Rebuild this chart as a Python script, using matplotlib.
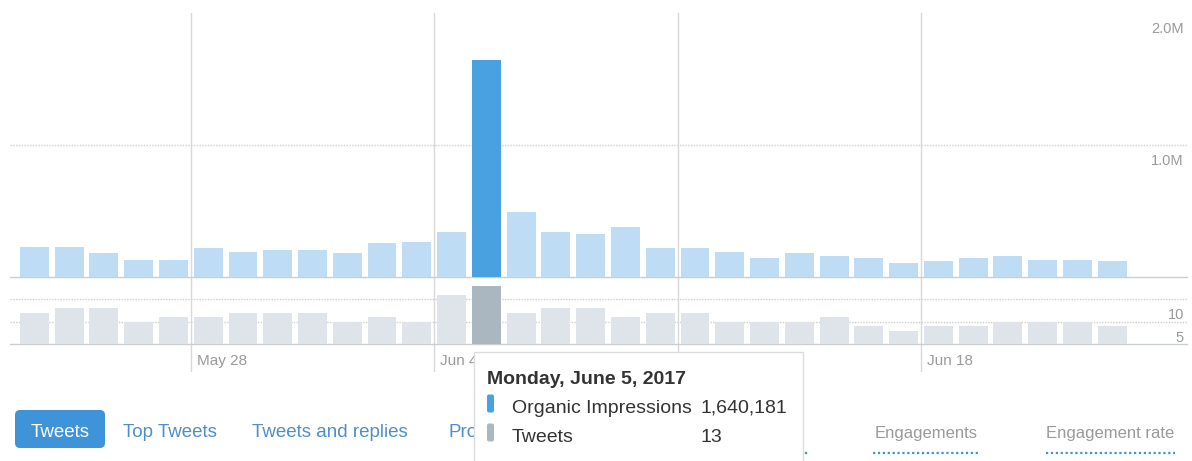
import pandas as pd
import matplotlib
matplotlib.use("Agg")
import matplotlib.pyplot as plt
import matplotlib.dates as mdates
from matplotlib.patches import FancyBboxPatch, Rectangle

plt.rcParams["font.family"] = ["Liberation Sans", "DejaVu Sans"]

# dados (impressoes organicas e tweets por dia)
dias = pd.date_range("2017-05-23", "2017-06-23", freq="D")
impressoes = [229000, 229000, 181000, 131000, 131000, 219000, 193000, 206000,
              206000, 181000, 254000, 266000, 342000, 1640181, 492000, 342000,
              329000, 377000, 219000, 219000, 193000, 143000, 181000, 156000,
              143000, 106000, 118000, 143000, 156000, 131000, 131000, 118000]
tweets = [7, 8, 8, 5, 6, 6, 7, 7, 7, 5, 6, 5, 11, 13, 7, 8,
          8, 6, 7, 7, 5, 5, 5, 6, 4, 3, 4, 4, 5, 5, 5, 4]
destaque = pd.Timestamp("2017-06-05")
semanas = pd.to_datetime(["2017-05-28", "2017-06-04", "2017-06-11", "2017-06-18"])
rotulos_semana = ["May 28", "Jun 4", "", "Jun 18"]
ticks_imp = [1.0e6, 2.0e6]
rotulos_imp = ["1.0M", "2.0M"]
ticks_tw = [5, 10]
rotulos_tw = ["5", "10"]
abas = ["Top Tweets", "Tweets and replies", "Pro"]
metricas = ["Engagements", "Engagement rate"]

W, H = 1192, 461


def caixa(x0, y0, x1, y1):
    return [x0 / W, 1 - y1 / H, (x1 - x0) / W, (y1 - y0) / H]


fig = plt.figure(figsize=(W / 100, H / 100), dpi=100)

x = mdates.date2num(dias) + 0.5
d0 = mdates.date2num(dias[0])
xlim = (d0 - 0.2, d0 + 33.65)
i_dest = list(dias).index(destaque)

cor_imp = ["#4aa1e2" if d == destaque else "#bedcf4" for d in dias]
cor_tw = ["#aab6c0" if d == destaque else "#dee4ea" for d in dias]
cinza = "#9a9a9a"

# =========================================================
# fundo com as linhas verticais das semanas
# =========================================================
bg = fig.add_axes(caixa(10, 13, 1187, 372))
bg.set_xlim(xlim)
bg.set_ylim(0, 1)
bg.axis("off")
for s, r in zip(semanas, rotulos_semana):
    bg.axvline(mdates.date2num(s), color="#d9d9d9", lw=1)
    if r:
        bg.annotate(r, xy=(mdates.date2num(s), 0), xycoords=("data", "axes fraction"),
                    xytext=(6, 7), textcoords="offset pixels",
                    ha="left", va="baseline", fontsize=11, color=cinza)

# =========================================================
# impressoes
# =========================================================
ax1 = fig.add_axes(caixa(10, 13, 1187, 277))
ax1.patch.set_alpha(0)
ax1.bar(x, impressoes, width=0.83, color=cor_imp, zorder=3)
ax1.set_xlim(xlim)
ax1.set_ylim(0, 2.0e6)
ax1.axhline(ticks_imp[0], color="#cfcfcf", lw=1, ls=(0, (1, 1)), zorder=1)

# =========================================================
# tweets
# =========================================================
ax2 = fig.add_axes(caixa(10, 282, 1187, 344))
ax2.patch.set_alpha(0)
ax2.bar(x, tweets, width=0.83, color=cor_tw, zorder=3)
ax2.set_xlim(xlim)
ax2.set_ylim(0, 62 / 4.5)
for t in ticks_tw:
    ax2.axhline(t, color="#cfcfcf", lw=1, ls=(0, (1, 1)), zorder=1)

for ax, ticks, rot in [(ax1, ticks_imp, rotulos_imp), (ax2, ticks_tw, rotulos_tw)]:
    for side in ["top", "left", "right"]:
        ax.spines[side].set_visible(False)
    ax.spines["bottom"].set_color("#c9ced3")
    ax.spines["bottom"].set_linewidth(1)
    ax.set_xticks([])
    ax.set_yticks([])
    for t, r in zip(ticks, rot):
        ax.annotate(r, xy=(1, t), xycoords=("axes fraction", "data"),
                    xytext=(-3, -20), textcoords="offset pixels",
                    ha="right", va="baseline", fontsize=10.5, color=cinza)

# =========================================================
# interface: abas, metricas e tooltip
# =========================================================
ui = fig.add_axes([0, 0, 1, 1])
ui.set_xlim(0, W)
ui.set_ylim(H, 0)
ui.axis("off")
ui.patch.set_alpha(0)

ui.add_patch(FancyBboxPatch((15, 410), 90, 38, boxstyle="round,pad=0,rounding_size=5",
                            fc="#3f93d8", ec="none"))
ui.text(60, 436.5, "Tweets", ha="center", va="baseline", fontsize=13.5, color="white")
for xt, a in zip([123, 252, 449], abas):
    ui.text(xt, 436.5, a, ha="left", va="baseline", fontsize=13.5, color="#4e8ecb")

for (xa, xb), m in zip([(873, 980), (1046, 1175)], metricas):
    ui.text((xa + xb) / 2, 437.5, m, ha="center", va="baseline", fontsize=12, color=cinza)
    ui.plot([xa, xb], [453, 453], color="#3b94d9", lw=1.6, ls=(0, (1, 1.2)))
ui.plot([800, 808], [453, 453], color="#3b94d9", lw=1.6, ls=(0, (1, 1.2)))

# tooltip do dia em destaque
ui.add_patch(Rectangle((474, 352), 329, 120, fc="white", ec="#dcdcdc", lw=1, zorder=5))
titulo = f"{destaque:%A, %B} {destaque.day}, {destaque.year}"
ui.text(487, 384, titulo, ha="left", va="baseline", fontsize=14,
        fontweight="bold", color="#333333", zorder=6)
linhas = [("Organic Impressions", f"{impressoes[i_dest]:,}", cor_imp[i_dest], 412.5),
          ("Tweets", f"{tweets[i_dest]}", cor_tw[i_dest], 441.5)]
for nome, valor, cor, yb in linhas:
    ui.add_patch(FancyBboxPatch((487, yb - 18), 7, 18, boxstyle="round,pad=0,rounding_size=2",
                                fc=cor, ec="none", zorder=6))
    ui.text(512, yb, nome, ha="left", va="baseline", fontsize=14, color="#333333", zorder=6)
    ui.text(700, yb, valor, ha="left", va="baseline", fontsize=14, color="#333333", zorder=6)

fig.savefig("out.png", dpi=100)
